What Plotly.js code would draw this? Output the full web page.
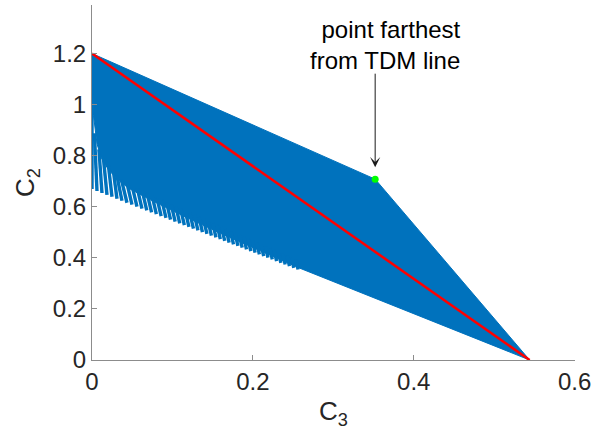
<!DOCTYPE html>
<html>
<head>
<meta charset="utf-8">
<script src="https://cdn.plot.ly/plotly-3.0.1.min.js"></script>
<style>html,body{margin:0;padding:0;background:#fff;}#plot{width:591px;height:445px;}</style>
</head>
<body>
<div id="plot"></div>
<script>
// ---- data ----
// outer feasible region: upper boundary then the (smoothed) lower edge back to the start
var regionC3 = [0, 0.352, 0.544, 0.2584, 0.2087, 0.1590, 0.1093, 0.0720, 0.0460, 0.0360, 0.0211, 0.0161, 0.0112, 0.0062, 0.0019, 0];
var regionC2 = [1.2, 0.708, 0, 0.3594, 0.4283, 0.4972, 0.5705, 0.6280, 0.6717, 0.6957, 0.7417, 0.7677, 0.7933, 0.8469, 0.9567, 1.2];

// individual curves visible as teeth along the lower-left edge: start (inside region) and tip
var toothTopC3 = [0, 0.0030, 0.0086, 0.0142, 0.0204, 0.0266, 0.0309, 0.0365, 0.0433, 0.0497, 0.0563, 0.0624, 0.0684, 0.0747, 0.0807, 0.0868, 0.0927, 0.0985, 0.1043, 0.1102, 0.1159, 0.1216, 0.1273, 0.1330, 0.1386, 0.1443, 0.1501, 0.1556, 0.1611, 0.1667, 0.1723, 0.1778, 0.1831, 0.1886, 0.1940, 0.1994, 0.2048, 0.2102, 0.2156, 0.2210, 0.2265, 0.2318, 0.2373, 0.2426, 0.2481, 0.2534];
var toothTopC2 = [1.2, 0.888, 0.825, 0.790, 0.762, 0.739, 0.723, 0.707, 0.695, 0.684, 0.672, 0.663, 0.654, 0.644, 0.635, 0.626, 0.617, 0.609, 0.601, 0.592, 0.584, 0.576, 0.568, 0.560, 0.552, 0.543, 0.536, 0.528, 0.520, 0.512, 0.504, 0.497, 0.489, 0.482, 0.475, 0.467, 0.460, 0.452, 0.445, 0.438, 0.430, 0.423, 0.416, 0.408, 0.401, 0.394];
var toothTipC3 = [0, 0.00621, 0.01242, 0.01863, 0.02484, 0.03106, 0.03727, 0.04348, 0.04969, 0.05590, 0.06211, 0.06807, 0.07404, 0.08000, 0.08596, 0.09193, 0.09764, 0.10335, 0.10907, 0.11478, 0.12050, 0.12609, 0.13168, 0.13727, 0.14286, 0.14845, 0.15404, 0.15950, 0.16497, 0.17043, 0.17590, 0.18137, 0.18671, 0.19205, 0.19739, 0.20273, 0.20807, 0.21342, 0.21876, 0.22410, 0.22944, 0.23478, 0.24012, 0.24547, 0.25081, 0.25615];
var toothTipC2 = [0.6693, 0.6618, 0.6539, 0.6465, 0.6390, 0.6311, 0.6236, 0.6157, 0.6083, 0.6008, 0.5929, 0.5854, 0.5783, 0.5709, 0.5634, 0.5563, 0.5492, 0.5421, 0.5350, 0.5280, 0.5213, 0.5142, 0.5075, 0.5004, 0.4937, 0.4866, 0.4799, 0.4732, 0.4665, 0.4598, 0.4531, 0.4465, 0.4398, 0.4331, 0.4264, 0.4201, 0.4134, 0.4067, 0.4004, 0.3937, 0.3870, 0.3807, 0.3740, 0.3673, 0.3610, 0.3543];

// TDM line
var tdmC3 = [0, 0.544];
var tdmC2 = [1.2, 0];

// point farthest from TDM line
var farC3 = [0.352];
var farC2 = [0.708];

var xTickVals = [0, 0.2, 0.4, 0.6];
var xTickText = ['0', '0.2', '0.4', '0.6'];
var yTickVals = [0, 0.2, 0.4, 0.6, 0.8, 1.0, 1.2];
var yTickText = ['0', '0.2', '0.4', '0.6', '0.8', '1', '1.2'];

// ---- build traces ----
var blue = '#0072BD';
var tx = [], ty = [];
for (var i = 0; i < toothTipC3.length; i++) {
  tx.push(toothTopC3[i], toothTipC3[i], null);
  ty.push(toothTopC2[i], toothTipC2[i], null);
}

var traces = [
  {x: regionC3, y: regionC2, type: 'scatter', mode: 'lines', fill: 'toself',
   fillcolor: blue, line: {color: blue, width: 1}, hoverinfo: 'skip'},
  {x: tx, y: ty, type: 'scatter', mode: 'lines', connectgaps: false,
   line: {color: blue, width: 3.4}, hoverinfo: 'skip'},
  {x: tdmC3, y: tdmC2, type: 'scatter', mode: 'lines',
   line: {color: '#FF0000', width: 2.5}, hoverinfo: 'skip'},
  {x: farC3, y: farC2, type: 'scatter', mode: 'markers',
   marker: {color: '#00FF00', size: 7}, hoverinfo: 'skip'}
];

var font = {family: '"Liberation Sans", Arial, Helvetica, sans-serif', size: 24, color: '#262626'};
var axisCol = '#8c8c8c';

var layout = {
  width: 591, height: 445,
  margin: {l: 92, r: 16, t: 5, b: 85},
  paper_bgcolor: '#fff', plot_bgcolor: '#fff',
  showlegend: false,
  font: font,
  xaxis: {
    range: [0, 0.6004], tickvals: xTickVals, ticktext: xTickText,
    ticklabeloverflow: 'allow',
    showline: true, linecolor: axisCol, linewidth: 1,
    ticks: 'inside', ticklen: 5, tickcolor: axisCol, tickwidth: 1,
    showgrid: false, zeroline: false, mirror: false,
    tickfont: font,
    title: {text: 'C<sub>3</sub>', font: {family: font.family, size: 26, color: '#262626'}, standoff: 8}
  },
  yaxis: {
    range: [0, 1.39], tickvals: yTickVals, ticktext: yTickText,
    showline: true, linecolor: axisCol, linewidth: 1,
    ticks: 'inside', ticklen: 5, tickcolor: axisCol, tickwidth: 1,
    showgrid: false, zeroline: false, mirror: false,
    tickfont: font,
    title: {text: 'C<sub>2</sub>', font: {family: font.family, size: 26, color: '#262626'}, standoff: 10}
  },
  annotations: [
    {xref: 'paper', yref: 'paper', x: 0.768, y: 0.888, xanchor: 'right', yanchor: 'middle',
     text: 'point farthest<br>from TDM line', align: 'right', showarrow: false,
     font: {family: font.family, size: 24, color: '#000'}},
    {x: farC3[0], y: farC2[0], xref: 'x', yref: 'y', text: '', showarrow: true,
     ax: 0, ay: -107, axref: 'pixel', ayref: 'pixel', standoff: 12,
     arrowhead: 3, arrowsize: 1.7, arrowwidth: 1, arrowcolor: '#1a1a1a'}
  ]
};

Plotly.newPlot('plot', traces, layout, {staticPlot: true, displayModeBar: false});
</script>
</body>
</html>
